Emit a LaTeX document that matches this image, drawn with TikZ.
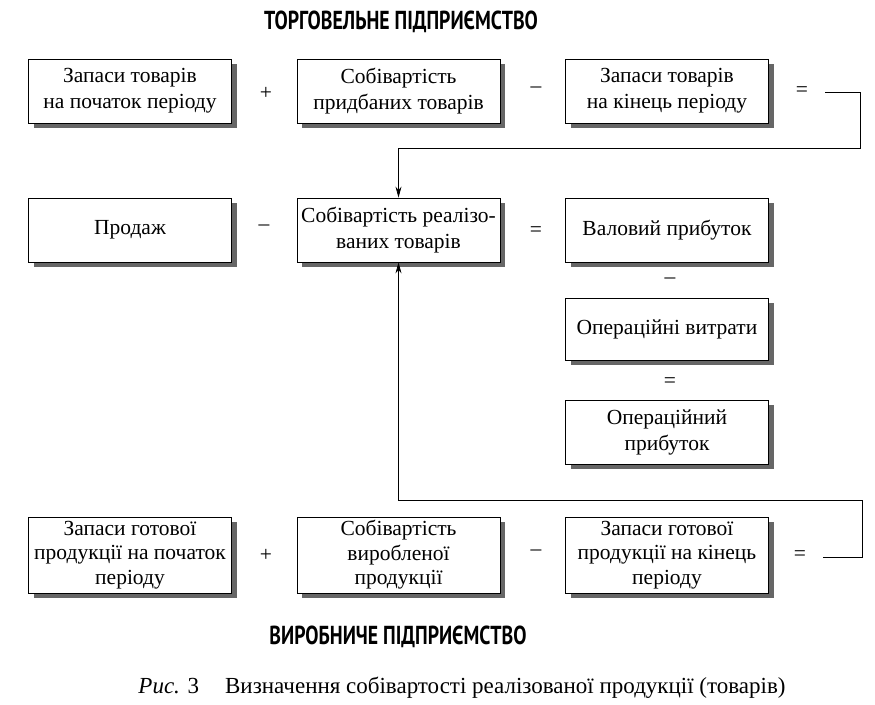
\documentclass[tikz,border=0pt]{standalone}
\usepackage{fontspec}
\setmainfont{Liberation Serif}
\newfontfamily\titlefont[FakeStretch=0.76]{PT Sans}
\usetikzlibrary{shadows,arrows.meta}
\begin{document}
\begin{tikzpicture}[x=1pt,y=-1pt,
  box/.style={draw, line width=0.8pt, fill=white, minimum width=203pt,
    minimum height=64pt, align=center, inner sep=2pt,
    font=\fontsize{21.5}{26}\selectfont,
    drop shadow={shadow xshift=5pt, shadow yshift=-5pt, fill=black!60, opacity=1}},
  tallbox/.style={box, minimum height=76pt, font=\fontsize{21.5}{24.5}\selectfont},
  op/.style={font=\fontsize{21.5}{26}\selectfont, inner sep=0pt},
  ttl/.style={font=\titlefont\bfseries\fontsize{26}{30}\selectfont},
  conn/.style={line width=0.8pt},
  arr/.style={conn, -{Stealth[length=11pt,width=6pt]}}
]
\useasboundingbox (0,0) rectangle (875,704);
\fill[white] (0,0) rectangle (875,704);

\node[ttl] (t1) at (401,22) {ТОРГОВЕЛЬНЕ ПІДПРИЄМСТВО};

% row 1
\node[box] (A) at (130,91) {Запаси товарів\\на початок періоду};
\node[box] (B) at (398.5,91) {Собівартість\\придбаних товарів};
\node[box] (C) at (667,91) {Запаси товарів\\на кінець періоду};
\node[op] (p1) at (266,93) {+};
\node[op] (m1) at (536,90) {–};
\node[op] (e1) at (802,92) {=};

% row 2
\node[box] (D) at (130,230) {Продаж};
\node[box] (E) at (398.5,230) {Собівартість реалізо-\\ваних товарів};
\node[box] (F) at (667,230) {Валовий прибуток};
\node[op] (m2) at (264,228) {–};
\node[op] (e2) at (536,232) {=};
\node[op] (m3) at (670,281) {–};
\node[box, minimum height=62pt] (G) at (667,329) {Операційні витрати};
\node[op] (e3) at (670,383) {=};
\node[box] (H) at (667,432) {Операційний\\прибуток};

% row 3
\node[tallbox] (I) at (130,555) {Запаси готової\\продукції на початок\\періоду};
\node[tallbox] (J) at (398.5,555) {Собівартість\\виробленої\\продукції};
\node[tallbox] (K) at (667,555) {Запаси готової\\продукції на кінець\\періоду};
\node[op] (p2) at (266,555) {+};
\node[op] (m4) at (536,553) {–};
\node[op] (e4) at (800,556) {=};

\node[ttl] (t2) at (398,637) {ВИРОБНИЧЕ ПІДПРИЄМСТВО};
\node[font=\fontsize{23}{27}\selectfont, inner sep=0pt] (cap) at (462,688)
  {\textit{Рис.} 3\hspace{26pt}Визначення собівартості реалізованої продукції (товарів)};

% connectors
\coordinate (s1) at (825,92);
\coordinate (s2) at (823,557);
\draw[arr] (s1) -- (860,92) -- (860,148) -- (E.north |- 0,148) -- (E.north);
\draw[arr] (s2) -- (862,557) -- (862,500) -- (E.south |- 0,500) -- (E.south);
\end{tikzpicture}
\end{document}
